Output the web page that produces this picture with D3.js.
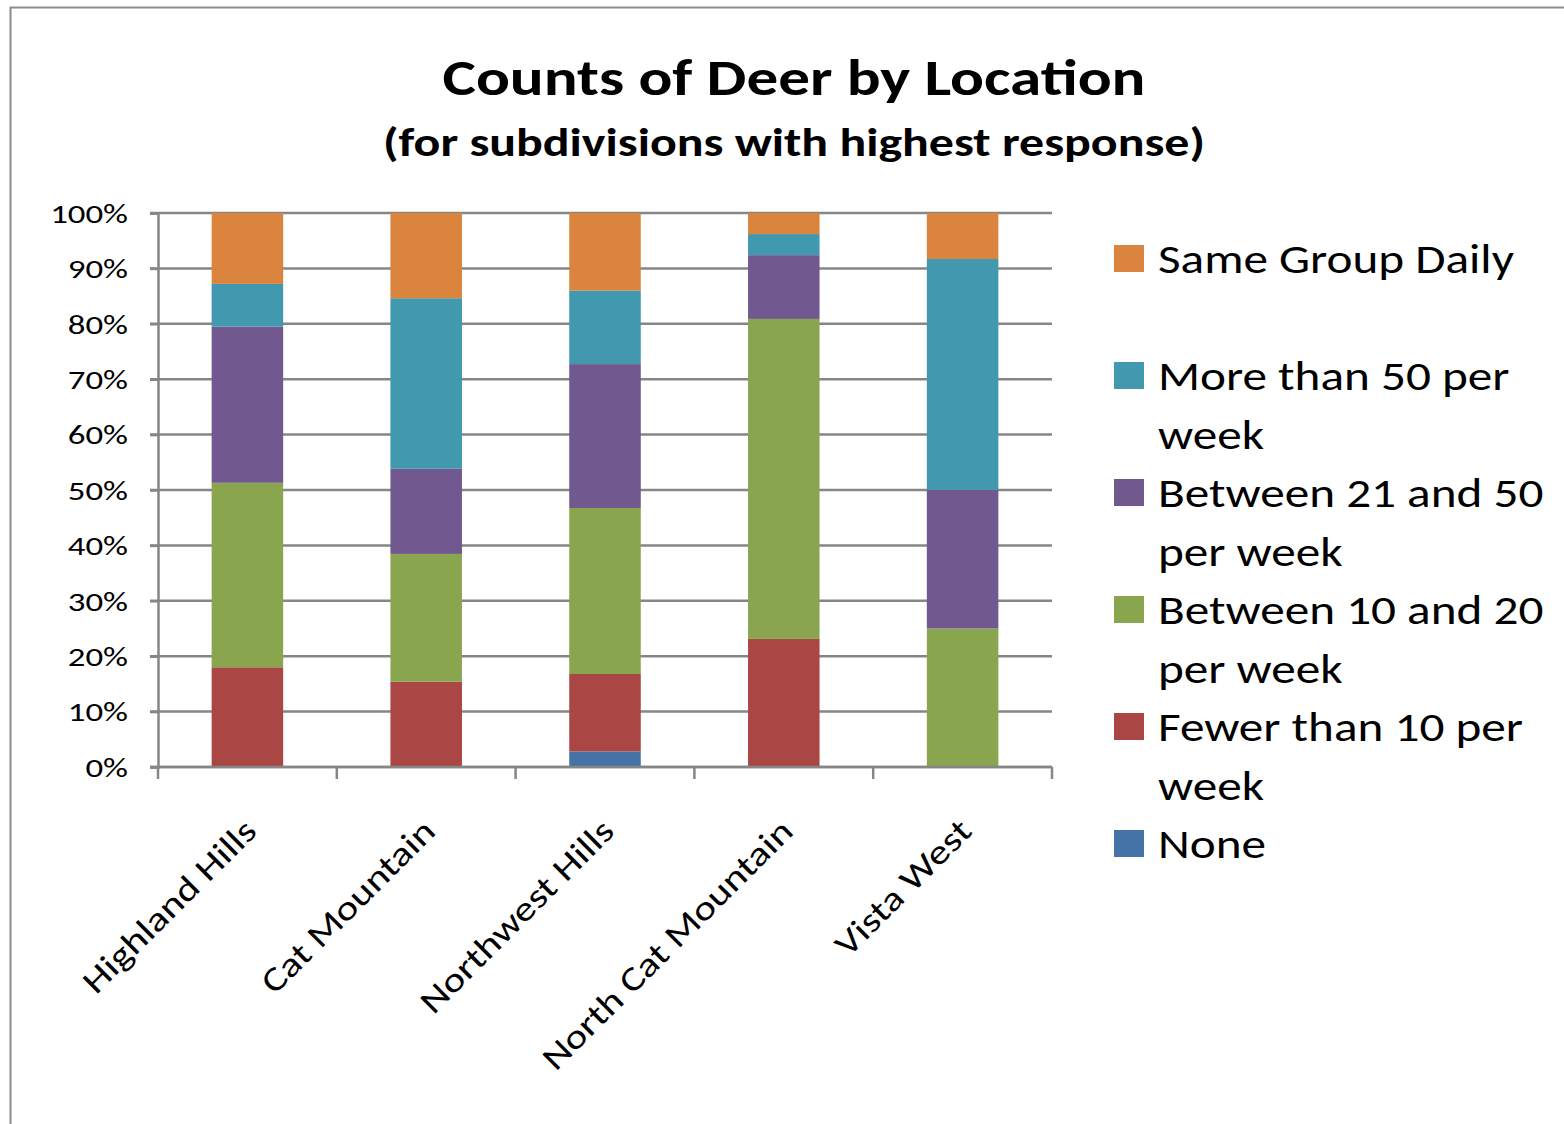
<!DOCTYPE html>
<html>
<head>
<meta charset="utf-8">
<script src="https://cdn.jsdelivr.net/npm/d3@7"></script>
<style>
  html, body { margin: 0; padding: 0; background: #fff; }
  svg { display: block; font-family: Carlito, Lato, 'Open Sans', sans-serif; }
</style>
</head>
<body>
<svg id="chart" width="1564" height="1124"></svg>
<script>
// Data (percent of responses per subdivision)
const categories = ['Highland Hills', 'Cat Mountain', 'Northwest Hills', 'North Cat Mountain', 'Vista West'];
const seriesNames = [
  'None',
  'Fewer than 10 per week',
  'Between 10 and 20 per week',
  'Between 21 and 50 per week',
  'More than 50 per week',
  'Same Group Daily',
];
const noneVals = [0, 0, 2.8, 0, 0];
const fewerVals = [18.0, 15.4, 14.0, 23.1, 0];
const b10to20Vals = [33.3, 23.1, 30.0, 57.7, 25.0];
const b21to50Vals = [28.2, 15.4, 26.0, 11.5, 25.0];
const over50Vals = [7.7, 30.8, 13.3, 3.8, 41.7];
const sameGroupVals = [12.8, 15.4, 14.0, 3.8, 8.3];
const yTicks = [0, 0.1, 0.2, 0.3, 0.4, 0.5, 0.6, 0.7, 0.8, 0.9, 1];
const colors = ['#4572A7', '#AA4643', '#89A54E', '#71588F', '#4198AF', '#DB843D'];
// legend text, already wrapped like the original
const legendLines = {
  'Same Group Daily': ['Same Group Daily'],
  'More than 50 per week': ['More than 50 per', 'week'],
  'Between 21 and 50 per week': ['Between 21 and 50', 'per week'],
  'Between 10 and 20 per week': ['Between 10 and 20', 'per week'],
  'Fewer than 10 per week': ['Fewer than 10 per', 'week'],
  'None': ['None'],
};

const allVals = [noneVals, fewerVals, b10to20Vals, b21to50Vals, over50Vals, sameGroupVals];
const table = categories.map((c, i) => {
  const row = { category: c };
  seriesNames.forEach((s, j) => { row[s] = allVals[j][i]; });
  return row;
});

const PLOT = { LEFT: 158, RIGHT: 1052, TOP: 213, BOTTOM: 767 };
const GRID = '#868686';

// The original font is wider than Lato; stretch glyphs horizontally to match.
function widen(sel, factor) {
  sel.each(function () {
    const w = this.getComputedTextLength();
    d3.select(this)
      .attr('textLength', w * factor)
      .attr('lengthAdjust', 'spacingAndGlyphs');
  });
}

const svg = d3.select('#chart');

// outer chart border
svg.append('rect')
  .attr('x', 10.5).attr('y', 7.5)
  .attr('width', 1600).attr('height', 1200)
  .attr('fill', 'none')
  .attr('stroke', '#8c8c8c')
  .attr('stroke-width', 2);

// titles
svg.append('text')
  .attr('x', 794).attr('y', 95)
  .attr('text-anchor', 'middle')
  .attr('textLength', 703).attr('lengthAdjust', 'spacingAndGlyphs')
  .style('font-size', '51px').style('font-weight', 'bold')
  .text('Counts of Deer by Location');
svg.append('text')
  .attr('x', 794).attr('y', 156)
  .attr('text-anchor', 'middle')
  .attr('textLength', 822).attr('lengthAdjust', 'spacingAndGlyphs')
  .style('font-size', '41px').style('font-weight', 'bold')
  .text('(for subdivisions with highest response)');

const x = d3.scaleBand()
  .domain(categories)
  .range([PLOT.LEFT, PLOT.RIGHT])
  .paddingInner(0.6)
  .paddingOuter(0.3);
const y = d3.scaleLinear().domain([0, 1]).range([PLOT.BOTTOM, PLOT.TOP]);

// gridlines
svg.append('g').attr('class', 'grid')
  .selectAll('line')
  .data(yTicks)
  .join('line')
  .attr('x1', PLOT.LEFT - 8).attr('x2', PLOT.RIGHT)
  .attr('y1', d => y(d)).attr('y2', d => y(d))
  .attr('stroke', GRID).attr('stroke-width', 2.5);

// y axis
const yAxis = svg.append('g')
  .attr('transform', `translate(${PLOT.LEFT},0)`)
  .call(d3.axisLeft(y).tickValues(yTicks).tickFormat(d3.format('.0%')).tickSize(8).tickPadding(22));
yAxis.select('.domain').attr('stroke', GRID).attr('stroke-width', 2.5);
yAxis.selectAll('.tick line').attr('stroke', GRID).attr('stroke-width', 2.5);
yAxis.selectAll('.tick text')
  .style('font-size', '26px')
  .style('font-family', 'Carlito, Lato, sans-serif')
  .attr('dy', '0.36em')
  .attr('fill', '#000')
  .call(widen, 1.34);

// stacked bars
const stack = d3.stack().keys(seriesNames).offset(d3.stackOffsetExpand);
const layers = stack(table);
svg.append('g').attr('class', 'bars')
  .selectAll('g')
  .data(layers)
  .join('g')
  .attr('fill', (d, i) => colors[i])
  .selectAll('rect')
  .data(d => d)
  .join('rect')
  .attr('x', d => x(d.data.category))
  .attr('width', x.bandwidth())
  .attr('y', d => y(d[1]))
  .attr('height', d => y(d[0]) - y(d[1]));

// x axis line and ticks between categories
const xAxis = svg.append('g').attr('class', 'x-axis');
xAxis.append('line')
  .attr('x1', PLOT.LEFT - 8).attr('x2', PLOT.RIGHT)
  .attr('y1', PLOT.BOTTOM).attr('y2', PLOT.BOTTOM)
  .attr('stroke', GRID).attr('stroke-width', 2.5);
const edges = d3.range(categories.length + 1).map(i => PLOT.LEFT + i * x.step());
xAxis.selectAll('.xt')
  .data(edges)
  .join('line')
  .attr('class', 'xt')
  .attr('x1', d => d).attr('x2', d => d)
  .attr('y1', PLOT.BOTTOM).attr('y2', PLOT.BOTTOM + 12)
  .attr('stroke', GRID).attr('stroke-width', 2.5);
xAxis.selectAll('.xl')
  .data(categories)
  .join('text')
  .attr('class', 'xl')
  .attr('text-anchor', 'end')
  .attr('transform', d => `translate(${x(d) + x.bandwidth() / 2 + 11},${PLOT.BOTTOM + 66}) rotate(-45)`)
  .style('font-size', '34px')
  .text(d => d)
  .call(widen, 1.22);

// legend
const legendOrder = seriesNames.slice().reverse();
const legend = svg.append('g').attr('class', 'legend');
const entry = legend.selectAll('g')
  .data(legendOrder)
  .join('g')
  .attr('transform', (d, i) => `translate(1114,${245 + i * 117})`);
entry.append('rect')
  .attr('width', 30).attr('height', 27)
  .attr('fill', d => colors[seriesNames.indexOf(d)]);
entry.selectAll('text')
  .data(d => legendLines[d])
  .join('text')
  .attr('x', 44)
  .attr('y', (d, i) => 28 + i * 59)
  .style('font-size', '41px')
  .text(d => d)
  .call(widen, 1.2);
</script>
</body>
</html>
